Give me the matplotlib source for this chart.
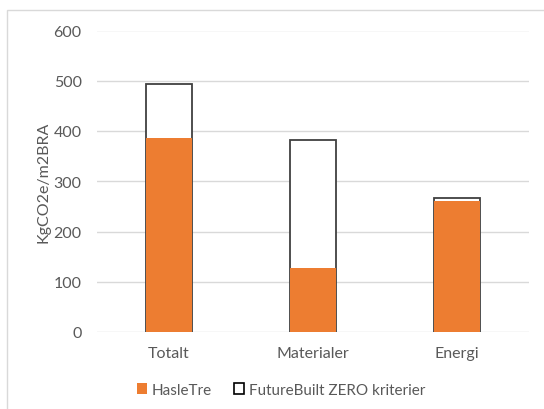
import matplotlib
matplotlib.use("Agg")
import matplotlib.pyplot as plt
from matplotlib.patches import Rectangle, Patch
import numpy as np

categories = ["Totalt", "Materialer", "Energi"]
hasletre = [387, 127, 260]
futurebuilt = [494, 383, 266]
series_names = ["HasleTre", "FutureBuilt ZERO kriterier"]
yticks = [0, 100, 200, 300, 400, 500, 600]

plt.rcParams["font.family"] = ["Lato", "DejaVu Sans"]
text_color = "#595959"
grid_color = "#d9d9d9"
orange = "#ed7d31"
edge = "#404040"

W, H = 544, 410
fig = plt.figure(figsize=(W / 100, H / 100), dpi=100)
fig.patch.set_facecolor("white")

# outer chart frame
fig.patches.append(Rectangle((7 / W, -0.1), 1.2, 1 - 11 / H + 0.1,
                             transform=fig.transFigure, fill=False,
                             edgecolor=grid_color, linewidth=1.0))

ax_w = 529 - 97
ax = fig.add_axes([97 / W, 1 - 333 / H, ax_w / W, (333 - 31.5) / H])
x = np.arange(len(categories))
width = 0.32

ax.bar(x, futurebuilt, width, color="white", edgecolor=edge, linewidth=1.3, zorder=2)
ax.bar(x, hasletre, width, color=orange, edgecolor="none", zorder=3)

ax.set_xlim(-0.5, len(categories) - 0.5)
ax.set_ylim(0, 600)
ax.set_yticks(yticks)
ax.set_xticks(x)
ax.set_xticklabels(categories)
ax.yaxis.grid(True, color=grid_color, linewidth=1.0)
ax.set_axisbelow(True)
for s in ax.spines.values():
    s.set_visible(False)
ax.tick_params(axis="both", length=0, labelsize=11.5, colors=text_color)
ax.tick_params(axis="y", pad=11)
ax.tick_params(axis="x", pad=10)
ax.set_ylabel("KgCO2e/m2BRA", fontsize=11.5, color=text_color)
ax.yaxis.set_label_coords(-46 / ax_w, 0.5)

handles = [Patch(facecolor=orange, edgecolor="none"),
           Patch(facecolor="white", edgecolor="black", linewidth=1.2)]
fig.legend(handles, series_names, loc="center", bbox_to_anchor=(281 / W, 1 - 391 / H),
           ncol=2, frameon=False, fontsize=11, labelcolor=text_color,
           handlelength=0.7, handleheight=0.7, handletextpad=0.3, columnspacing=1.4)

fig.savefig("out.png", dpi=100, facecolor="white")
